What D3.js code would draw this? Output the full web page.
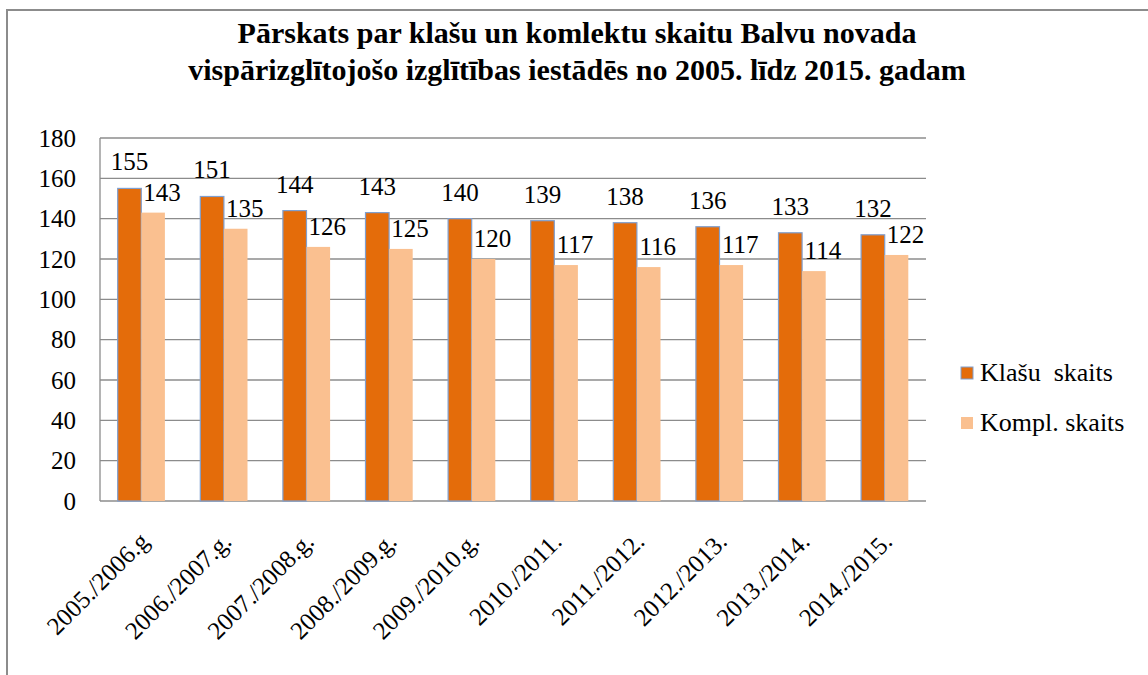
<!DOCTYPE html>
<html><head><meta charset="utf-8">
<script src="https://cdn.jsdelivr.net/npm/d3@7"></script>
<style>body{margin:0;background:#fff}svg{display:block}</style>
</head><body>
<svg id="c" width="1148" height="675"></svg>
<script>
const categories = ["2005./2006.g","2006./2007.g.","2007./2008.g.","2008./2009.g.","2009./2010.g.","2010./2011.","2011./2012.","2012./2013.","2013./2014.","2014./2015."];
const klasuSkaits = [155,151,144,143,140,139,138,136,133,132];
const komplSkaits = [143,135,126,125,120,117,116,117,114,122];
const seriesNames = ["Klašu  skaits","Kompl. skaits"];
const yTicks = [0,20,40,60,80,100,120,140,160,180];
const titleLines = ["Pārskats par klašu un komlektu skaitu Balvu novada","vispārizglītojošo izglītības iestādēs no 2005. līdz 2015. gadam"];

(function(){
const FONT = "Liberation Serif, Times New Roman, serif";
const colors = ["#E46C0A","#FAC090"];
const svg = d3.select("#c");
svg.append("rect").attr("x",7).attr("y",10).attr("width",1160).attr("height",700)
  .attr("fill","#fff").attr("stroke","#8c8c8c").attr("stroke-width",2);

const titleW=[727,835];
const tt = svg.selectAll(".title").data(titleLines).enter().append("text")
  .attr("x",577).attr("y",(d,i)=>43+i*37).attr("text-anchor","middle")
  .attr("font-family",FONT).attr("font-weight","bold").attr("font-size",27).attr("fill","#000").text(d=>d);
// fit title size to the reference line widths, keeping both lines at one size
const w2 = tt.nodes()[1].getComputedTextLength();
const fs = Math.min(30, 27*titleW[1]/w2);
tt.attr("font-size",fs);

const pl=100,pr=926,pt=138,pb=501;
const x0 = d3.scaleBand().domain(categories).range([pl,pr]).paddingInner(0).paddingOuter(0);
const x1 = d3.scaleBand().domain([0,1]).range([0,x0.bandwidth()]).paddingInner(0).paddingOuter(0.75);
const y = d3.scaleLinear().domain([0,180]).range([pb,pt]);

svg.append("g").selectAll("line").data(yTicks).enter().append("line")
  .attr("x1",pl).attr("x2",pr).attr("y1",d=>y(d)).attr("y2",d=>y(d))
  .attr("stroke","#8c8c8c").attr("stroke-width",1.3);
svg.append("line").attr("x1",pl).attr("x2",pl).attr("y1",pt).attr("y2",pb)
  .attr("stroke","#8c8c8c").attr("stroke-width",1.3);

const yAxis = d3.axisLeft(y).tickValues(yTicks).tickSize(0).tickPadding(24);
const ya = svg.append("g").attr("transform",`translate(${pl},0)`).call(yAxis)
  .attr("font-family",FONT).attr("font-size",25);
ya.select(".domain").remove();
ya.selectAll("text").attr("fill","#000");

const series=[klasuSkaits,komplSkaits];
series.forEach((vals,si)=>{
  svg.append("g").selectAll("rect").data(vals).enter().append("rect")
    .attr("x",(d,i)=>x0(categories[i])+x1(si))
    .attr("y",d=>y(d)).attr("width",x1.bandwidth()).attr("height",d=>pb-y(d))
    .attr("fill",colors[si])
    .attr("stroke",si===0?"#7f9fcf":"none").attr("stroke-width",1.2);
});
series.forEach((vals,si)=>{
  svg.append("g").selectAll("text").data(vals).enter().append("text")
    .attr("x",(d,i)=>x0(categories[i])+x1(si)+x1.bandwidth()/2+(si===0?0:9))
    .attr("y",d=>y(d)-(si===0?18:12))
    .attr("text-anchor","middle").attr("font-family",FONT).attr("font-size",25).attr("fill","#000").text(d=>d);
});

svg.append("g").selectAll("text").data(categories).enter().append("text")
  .attr("transform",d=>`translate(${x0(d)+x0.bandwidth()/2+9},${pb+42}) rotate(-45)`)
  .attr("text-anchor","end").attr("font-family",FONT).attr("font-size",25).attr("fill","#000").text(d=>d);

const lg = svg.append("g");
seriesNames.forEach((n,i)=>{
  lg.append("rect").attr("x",961).attr("y",367+i*50).attr("width",12).attr("height",12)
    .attr("fill",colors[i]).attr("stroke",i===0?"#7f9fcf":"none").attr("stroke-width",1);
  lg.append("text").attr("x",980).attr("y",381+i*50).attr("font-family",FONT).attr("font-size",26)
    .attr("fill","#000").attr("xml:space","preserve").style("white-space","pre").text(n);
});
})();
</script>
</body></html>
